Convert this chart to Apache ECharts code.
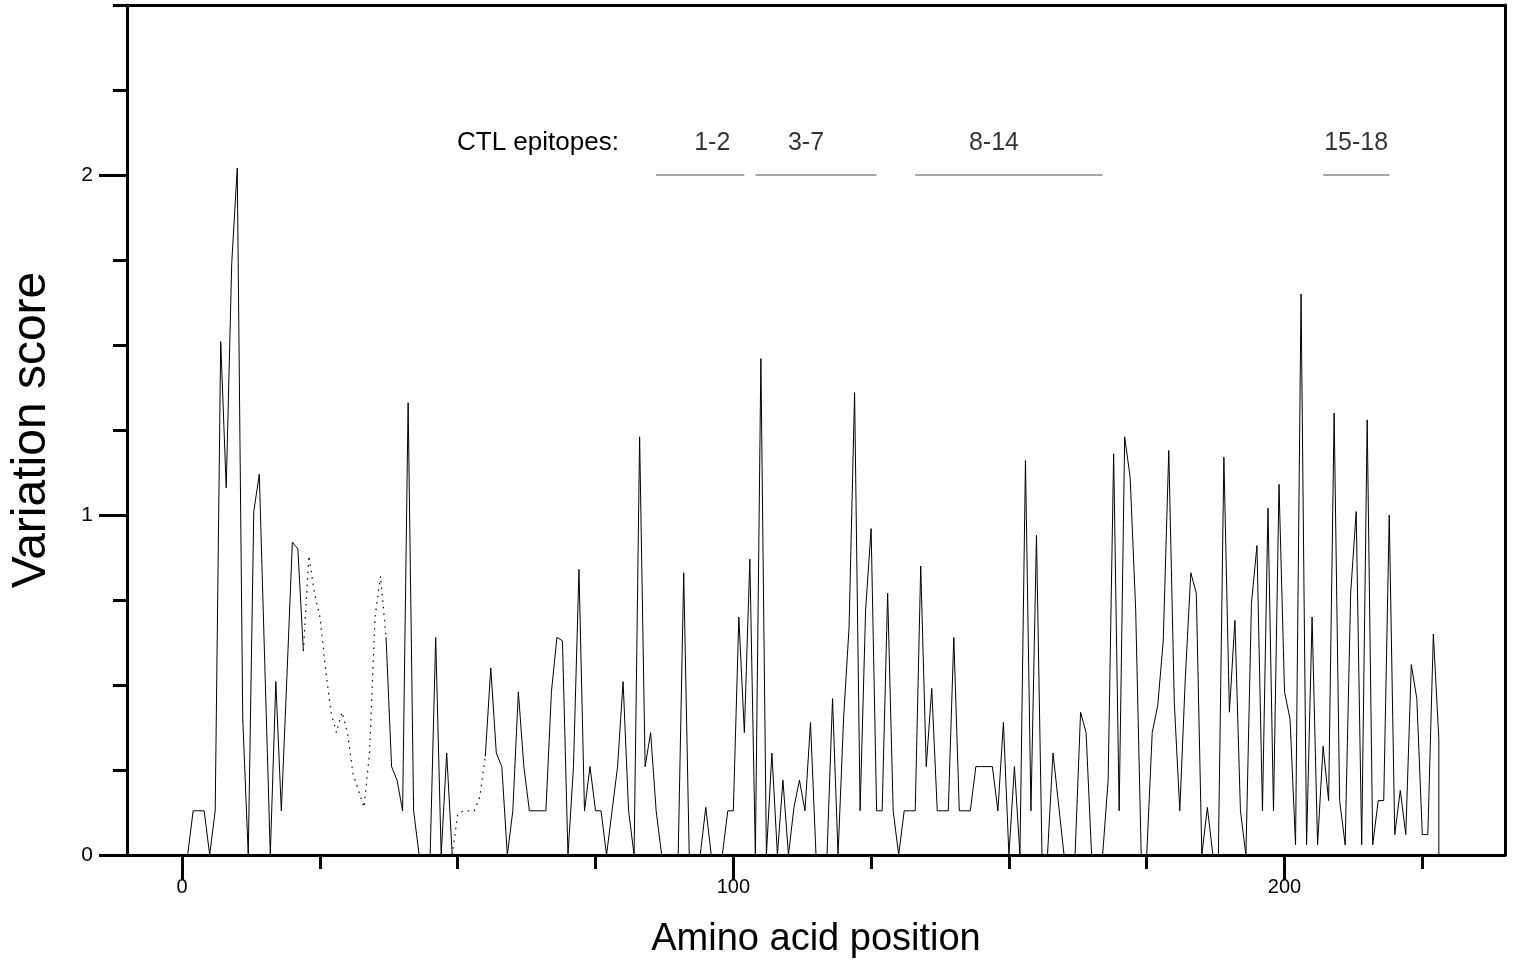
<!DOCTYPE html>
<html>
<head>
<meta charset="utf-8">
<title>Variation score</title>
<script src="https://cdn.jsdelivr.net/npm/echarts@6/dist/echarts.min.js"></script>
<style>
html, body { margin: 0; padding: 0; background: #fff; }
#container { width: 1518px; height: 962px; }
</style>
</head>
<body>
<div id="container"></div>
<script>
// variation score per amino acid position, starting at position 1
var scores = [
	0, 0.13, 0.13, 0.13, 0, 0.13, 1.51, 1.08, 1.74, 2.02,
	0.40, 0, 1.01, 1.12, 0.56, 0, 0.51, 0.13, 0.52, 0.92,
	0.90, 0.60, 0.88, 0.77, 0.70, 0.55, 0.42, 0.36, 0.42, 0.36,
	0.24, 0.19, 0.14, 0.30, 0.70, 0.82, 0.64, 0.26, 0.22, 0.13,
	1.33, 0.13, 0, 0, 0, 0.64, 0, 0.30, 0, 0.12,
	0.13, 0.13, 0.13, 0.17, 0.29, 0.55, 0.30, 0.26, 0, 0.13,
	0.48, 0.26, 0.13, 0.13, 0.13, 0.13, 0.48, 0.64, 0.63, 0,
	0.26, 0.84, 0.13, 0.26, 0.13, 0.13, 0, 0.13, 0.26, 0.51,
	0.13, 0, 1.23, 0.26, 0.36, 0.13, 0, 0, 0, 0,
	0.83, 0, 0, 0, 0.14, 0, 0, 0, 0.13, 0.13,
	0.70, 0.36, 0.87, 0, 1.46, 0, 0.30, 0, 0.22, 0,
	0.14, 0.22, 0.13, 0.39, 0, 0, 0, 0.46, 0, 0.40,
	0.67, 1.36, 0.13, 0.72, 0.96, 0.13, 0.13, 0.77, 0.13, 0,
	0.13, 0.13, 0.13, 0.85, 0.26, 0.49, 0.13, 0.13, 0.13, 0.64,
	0.13, 0.13, 0.13, 0.26, 0.26, 0.26, 0.26, 0.13, 0.39, 0,
	0.26, 0, 1.16, 0.13, 0.94, 0, 0, 0.30, 0.15, 0,
	0, 0, 0.42, 0.36, 0, 0, 0, 0.22, 1.18, 0.13,
	1.23, 1.11, 0.72, 0, 0, 0.36, 0.44, 0.63, 1.19, 0.45,
	0.13, 0.52, 0.83, 0.77, 0, 0.14, 0, 0, 1.17, 0.42,
	0.69, 0.13, 0, 0.74, 0.91, 0.13, 1.02, 0.13, 1.09, 0.48,
	0.40, 0.03, 1.65, 0.03, 0.70, 0.03, 0.32, 0.16, 1.30, 0.16,
	0.03, 0.77, 1.01, 0.03, 1.28, 0.03, 0.16, 0.16, 1.00, 0.06,
	0.19, 0.06, 0.56, 0.46, 0.06, 0.06, 0.65, 0.34
];
// stretches drawn dotted (start, end position)
var dottedRanges = [[22, 37], [49, 55]];

// CTL epitope stretches
var epitopeNames = ['1-2', '3-7', '8-14', '15-18'];
var epitopeRanges = [[86, 102], [104, 126], [133, 167], [207, 219]];
var epitopeLevel = 2;

var xMajorTicks = [0, 100, 200];
var xMinorTicks = [0, 25, 50, 75, 100, 125, 150, 175, 200, 225];
var yMajorTicks = [0, 1, 2];

var fontName = '"Liberation Sans", Arial, sans-serif';
// small nudges so the labels sit where the original put them
var labelShift = [12, -10, -15, 0];

function inDotted(pos) {
	for (var i = 0; i < dottedRanges.length; i++) {
		if (pos > dottedRanges[i][0] && pos < dottedRanges[i][1]) return true;
	}
	return false;
}
function onDotted(pos) {
	for (var i = 0; i < dottedRanges.length; i++) {
		if (pos >= dottedRanges[i][0] && pos <= dottedRanges[i][1]) return true;
	}
	return false;
}

var solidData = [], dottedData = [];
for (var i = 0; i < scores.length; i++) {
	var pos = i + 1;
	solidData.push([pos, inDotted(pos) ? '-' : scores[i]]);
	dottedData.push([pos, onDotted(pos) ? scores[i] : '-']);
}
// the trace drops back to the axis after the last position
solidData.push([scores.length, 0]);

var series = [{
	name: 'score',
	type: 'line',
	data: solidData,
	symbol: 'none',
	connectNulls: false,
	lineStyle: { color: '#000', width: 1 },
	z: 3
}, {
	name: 'score (gap)',
	type: 'line',
	data: dottedData,
	symbol: 'none',
	connectNulls: false,
	lineStyle: { color: '#000', width: 1.2, type: [1.5, 5] },
	z: 3
}];

for (var k = 0; k < epitopeRanges.length; k++) {
	series.push({
		name: 'epitope ' + epitopeNames[k],
		type: 'line',
		symbol: 'none',
		data: [[epitopeRanges[k][0], epitopeLevel], [epitopeRanges[k][1], epitopeLevel]],
		lineStyle: { color: '#888', width: 1.5 }
	});
}
series.push({
	name: 'epitope labels',
	type: 'scatter',
	symbolSize: 0,
	data: epitopeNames.map(function(n, k) {
		return {
			name: n,
			value: [(epitopeRanges[k][0] + epitopeRanges[k][1]) / 2, epitopeLevel + 0.094],
			label: { offset: [labelShift[k], 0] }
		};
	}),
	label: {
		show: true,
		position: 'inside',
		formatter: '{b}',
		color: '#000',
		fontSize: 25,
		fontFamily: fontName
	}
});

var myChart = echarts.init(document.getElementById('container'));
var option = {
	animation: false,
	backgroundColor: '#fff',
	grid: { left: 127, right: 13, top: 5, bottom: 107, outerBoundsMode: 'none', containLabel: false },
	xAxis: [{
		type: 'value',
		min: -10,
		max: 240,
		position: 'bottom',
		axisLine: { show: true, onZero: false, lineStyle: { color: '#000', width: 3 } },
		axisTick: { show: true, customValues: xMajorTicks, length: 25, lineStyle: { color: '#000', width: 3 } },
		axisLabel: { customValues: xMajorTicks, margin: 22, fontSize: 20, color: '#000', fontFamily: fontName },
		splitLine: { show: false },
		name: 'Amino acid position',
		nameLocation: 'middle',
		nameGap: 66,
		nameTextStyle: { fontSize: 38, color: '#000', fontFamily: fontName }
	}, {
		type: 'value',
		min: -10,
		max: 240,
		position: 'bottom',
		axisLine: { show: false, onZero: false },
		axisTick: { show: true, customValues: xMinorTicks, length: 14, lineStyle: { color: '#000', width: 3 } },
		axisLabel: { show: false },
		splitLine: { show: false }
	}, {
		type: 'value',
		min: -10,
		max: 240,
		position: 'top',
		axisLine: { show: true, onZero: false, lineStyle: { color: '#000', width: 3 } },
		axisTick: { show: false },
		axisLabel: { show: false },
		splitLine: { show: false }
	}],
	yAxis: [{
		type: 'value',
		min: 0,
		max: 2.5,
		position: 'left',
		axisLine: { show: true, onZero: false, lineStyle: { color: '#000', width: 3 } },
		axisTick: { show: true, customValues: yMajorTicks, length: 28, lineStyle: { color: '#000', width: 3 } },
		axisLabel: { customValues: yMajorTicks, margin: 34, fontSize: 21, color: '#000', fontFamily: fontName },
		splitLine: { show: false },
		name: 'Variation score',
		nameLocation: 'middle',
		nameGap: 71,
		nameTextStyle: { fontSize: 48, color: '#000', fontFamily: fontName }
	}, {
		type: 'value',
		min: 0,
		max: 2.5,
		interval: 0.25,
		position: 'left',
		axisLine: { show: false, onZero: false },
		axisTick: { show: true, length: 14, lineStyle: { color: '#000', width: 3 } },
		axisLabel: { show: false },
		splitLine: { show: false }
	}, {
		type: 'value',
		min: 0,
		max: 2.5,
		position: 'right',
		axisLine: { show: true, onZero: false, lineStyle: { color: '#000', width: 3 } },
		axisTick: { show: false },
		axisLabel: { show: false },
		splitLine: { show: false }
	}],
	graphic: [{
		type: 'text',
		left: 457,
		top: 130,
		style: { text: 'CTL epitopes:', fontSize: 26, fill: '#000', fontFamily: fontName }
	}],
	series: series
};
myChart.setOption(option, true);
</script>
</body>
</html>
